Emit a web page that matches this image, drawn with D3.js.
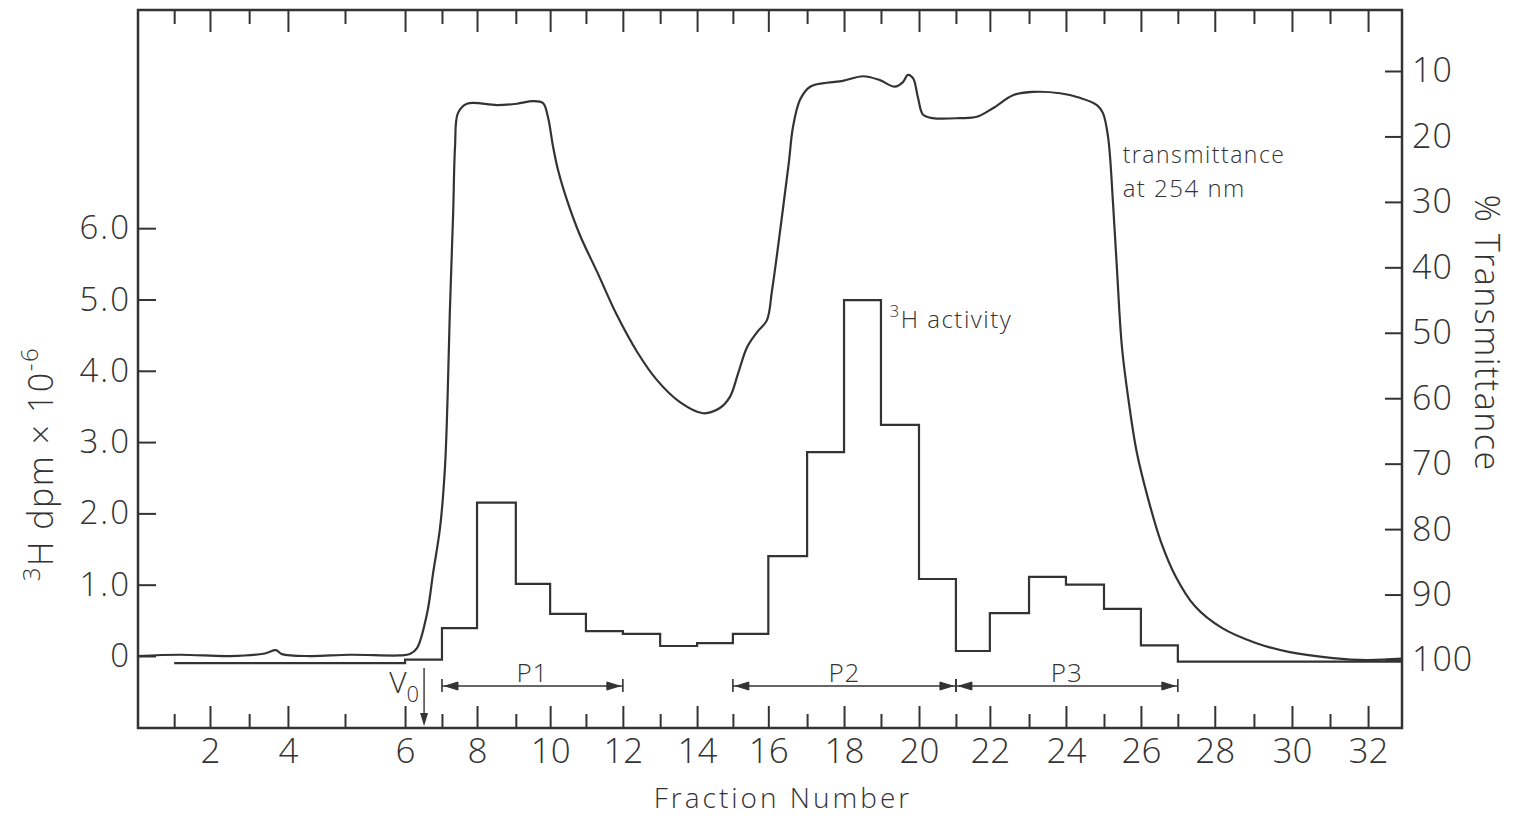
<!DOCTYPE html>
<html>
<head>
<meta charset="utf-8">
<script src="https://cdn.jsdelivr.net/npm/d3@7"></script>
<style>
    body { margin: 0; background: #fff; }
    text { font-family: "Open Sans", sans-serif; font-weight: 300; fill: #333; }
</style>
</head>
<body>
<div id="chart"></div>
<script>
const width = 1523;
const height = 824;
const margin = {'top': 10, 'bottom': 96, 'left': 138, 'right': 121};

// fraction numbers and where each fraction starts on the elution axis (ml)
const fractionNumber = [1, 2, 3, 4, 5, 6, 7, 8, 9, 10, 11, 12, 13, 14, 15, 16,
    17, 18, 19, 20, 21, 22, 23, 24, 25, 26, 27, 28, 29, 30, 31, 32];
const fractionVolume = [0.97, 1.93, 2.98, 4.02, 5.55, 7.16, 8.15, 9.09, 10.13, 11.05, 12.01, 13.0,
    14.0, 14.99, 15.95, 16.9, 17.94, 18.93, 19.92, 20.94, 21.93, 22.84, 23.89, 24.88,
    25.9, 26.89, 27.88, 28.87, 29.92, 30.94, 31.96, 32.98];
const volumeMax = 33.89;

// 3H activity per fraction (dpm x 10^-6)
const activity = [-0.10, -0.10, -0.10, -0.10, -0.10, -0.05, 0.39, 2.15, 1.01, 0.59, 0.35, 0.31,
    0.14, 0.18, 0.31, 1.40, 2.86, 4.99, 3.24, 1.08, 0.07, 0.60, 1.11, 1.00,
    0.66, 0.15, -0.08, -0.08, -0.08, -0.08, -0.08, -0.08];

// transmittance trace at 254 nm
const transVolume = [0.00, 1.13, 2.47, 3.40, 3.70, 3.86, 4.61, 5.68, 7.02, 7.29, 7.48, 7.75,
    7.91, 8.10, 8.23, 8.30, 8.36, 8.45, 8.50, 8.58, 8.82, 9.62, 10.16, 10.59,
    10.86, 10.99, 11.13, 11.26, 11.50, 11.85, 12.31, 12.84, 13.38, 13.91, 14.53, 15.15,
    15.60, 15.87, 16.09, 16.33, 16.60, 16.86, 17.00, 17.26, 17.45, 17.56, 17.75, 18.02,
    18.47, 18.90, 19.44, 19.89, 20.29, 20.51, 20.64, 20.78, 20.91, 21.05, 21.31, 22.04,
    22.49, 22.92, 23.46, 23.99, 24.72, 25.25, 25.71, 25.87, 26.01, 26.14, 26.25, 26.38,
    26.57, 26.78, 27.08, 27.43, 27.80, 28.34, 29.06, 29.97, 30.88, 32.04, 32.95, 33.89];
const transPercent = [99.4, 99.2, 99.4, 99.0, 98.5, 99.1, 99.4, 99.2, 99.3, 99.1, 98.2, 92.9,
    86.8, 79.7, 70.6, 60.0, 47.0, 31.7, 21.6, 16.4, 15.0, 15.2, 15.0, 14.6,
    14.9, 17.0, 21.6, 25.1, 29.7, 35.1, 40.7, 47.3, 52.9, 57.2, 60.6, 62.3,
    61.5, 59.8, 56.2, 52.2, 49.9, 48.1, 43.5, 32.5, 24.0, 18.6, 14.4, 12.4,
    11.8, 11.5, 10.8, 11.4, 12.4, 11.7, 10.6, 11.1, 14.0, 16.7, 17.2, 17.2,
    17.0, 15.7, 13.7, 13.2, 13.4, 14.1, 15.2, 16.4, 20.1, 30.0, 40.5, 52.1,
    60.8, 68.3, 75.3, 82.0, 87.0, 91.8, 95.1, 97.4, 98.8, 99.7, 100.0, 99.8];

// tick labels
const activityTicks = [0, 1, 2, 3, 4, 5, 6];
const percentTicks = [10, 20, 30, 40, 50, 60, 70, 80, 90, 100];

// pooled peaks (first and last fraction boundary) and void volume
const peakLabels = ['P1', 'P2', 'P3'];
const peakFrom = [7, 15, 21];
const peakTo = [12, 21, 27];
const voidVolume = 7.67;

let svg;

window.addEventListener('load', () => {
    drawChart();
});

const drawChart = () => {
    const plotBottom = height - margin.bottom;
    const plotRight = width - margin.right;

    svg = d3.select('#chart')
        .append('svg')
        .attr('width', width)
        .attr('height', height);

    const x = d3.scaleLinear()
        .domain([0, volumeMax])
        .range([margin.left, plotRight]);

    const yLeft = d3.scaleLinear()
        .domain([-1.01, 9.06])
        .range([plotBottom, margin.top]);

    const yRight = d3.scaleLinear()
        .domain([110.39, 0.68])
        .range([plotBottom, margin.top]);

    const ink = '#333';

    // bottom axis, ticks pointing inward
    const bottom = svg.append('g')
        .attr('class', 'x-axis')
        .attr('transform', 'translate(0,' + plotBottom + ')')
        .call(d3.axisBottom(x)
            .tickValues(fractionVolume)
            .tickSizeInner(-22).tickSizeOuter(0).tickPadding(10)
            .tickFormat((d, i) => fractionNumber[i] % 2 === 0 ? fractionNumber[i] : ''));
    bottom.selectAll('.tick line')
        .attr('y2', (d, i) => fractionNumber[i] % 2 === 0 ? -22 : -14);
    bottom.selectAll('text').style('font-size', '35px').attr('dy', '0.72em');

    // top axis
    const top = svg.append('g')
        .attr('transform', 'translate(0,' + margin.top + ')')
        .call(d3.axisTop(x)
            .tickValues(fractionVolume)
            .tickSizeInner(-22).tickSizeOuter(0)
            .tickFormat(''));
    top.selectAll('.tick line')
        .attr('y2', (d, i) => fractionNumber[i] % 2 === 0 ? 22 : 14);

    // left axis
    const left = svg.append('g')
        .attr('class', 'y-axis')
        .attr('transform', 'translate(' + margin.left + ',0)')
        .call(d3.axisLeft(yLeft)
            .tickValues(activityTicks)
            .tickSizeInner(-18).tickSizeOuter(0).tickPadding(7)
            .tickFormat(d => d === 0 ? '0' : d.toFixed(1)));
    left.selectAll('text').style('font-size', '33px').style('letter-spacing', '2px');

    // right axis
    const right = svg.append('g')
        .attr('transform', 'translate(' + plotRight + ',0)')
        .call(d3.axisRight(yRight)
            .tickValues(percentTicks)
            .tickSizeInner(-17).tickSizeOuter(0).tickPadding(10));
    right.selectAll('text').style('font-size', '34px').style('letter-spacing', '1px');

    svg.selectAll('.domain').remove();
    svg.selectAll('.tick line').attr('stroke', ink).attr('stroke-width', 2);
    svg.selectAll('.tick text').attr('fill', ink).style('font-family', '"Open Sans", sans-serif');

    // frame
    svg.append('rect')
        .attr('x', margin.left)
        .attr('y', margin.top)
        .attr('width', plotRight - margin.left)
        .attr('height', plotBottom - margin.top)
        .attr('fill', 'none')
        .attr('stroke', ink)
        .attr('stroke-width', 2.5);

    // 3H activity histogram
    const steps = activity.map((v, i) => ({vol: fractionVolume[i], val: v}));
    steps.push({vol: volumeMax, val: activity[activity.length - 1]});
    svg.append('path')
        .datum(steps)
        .attr('fill', 'none')
        .attr('stroke', ink)
        .attr('stroke-width', 2.2)
        .attr('d', d3.line()
            .curve(d3.curveStepAfter)
            .x(d => x(d.vol))
            .y(d => yLeft(d.val)));

    // transmittance trace
    const trace = transVolume.map((v, i) => ({vol: v, pct: transPercent[i]}));
    svg.append('path')
        .datum(trace)
        .attr('fill', 'none')
        .attr('stroke', ink)
        .attr('stroke-width', 2.2)
        .attr('d', d3.line()
            .curve(d3.curveCatmullRom.alpha(0.5))
            .x(d => x(d.vol))
            .y(d => yRight(d.pct)));

    // peak pool arrows
    const arrowY = plotBottom - 42;
    peakLabels.forEach((label, i) => {
        const x1 = x(fractionVolume[peakFrom[i] - 1]);
        const x2 = x(fractionVolume[peakTo[i] - 1]);
        const g = svg.append('g').attr('stroke', ink).attr('fill', ink);
        g.append('line')
            .attr('x1', x1).attr('x2', x2)
            .attr('y1', arrowY).attr('y2', arrowY)
            .attr('stroke-width', 1.6);
        [x1, x2].forEach(xe => {
            g.append('line')
                .attr('x1', xe).attr('x2', xe)
                .attr('y1', arrowY - 7).attr('y2', arrowY + 6)
                .attr('stroke-width', 1.6);
        });
        g.append('path')
            .attr('stroke-width', 1)
            .attr('d', 'M' + (x1 + 3) + ',' + arrowY + 'L' + (x1 + 16) + ',' + (arrowY - 4) +
                'L' + (x1 + 16) + ',' + (arrowY + 4) + 'Z');
        g.append('path')
            .attr('stroke-width', 1)
            .attr('d', 'M' + (x2 - 3) + ',' + arrowY + 'L' + (x2 - 16) + ',' + (arrowY - 4) +
                'L' + (x2 - 16) + ',' + (arrowY + 4) + 'Z');
        svg.append('text')
            .attr('x', (x1 + x2) / 2)
            .attr('y', arrowY - 4)
            .attr('text-anchor', 'middle')
            .style('font-size', '26px')
            .style('letter-spacing', '1px')
            .text(label);
    });

    // void volume marker
    const xv = x(voidVolume);
    svg.append('line')
        .attr('x1', xv).attr('x2', xv)
        .attr('y1', plotBottom - 60).attr('y2', plotBottom - 12)
        .attr('stroke', ink).attr('stroke-width', 1.4);
    svg.append('path')
        .attr('fill', ink)
        .attr('d', 'M' + xv + ',' + (plotBottom - 2) + 'L' + (xv - 4) + ',' + (plotBottom - 15) +
            'L' + (xv + 4) + ',' + (plotBottom - 15) + 'Z');
    const v0 = svg.append('text')
        .attr('x', xv - 5)
        .attr('y', plotBottom - 35)
        .attr('text-anchor', 'end')
        .style('font-size', '30px');
    v0.append('tspan').text('V');
    v0.append('tspan').attr('dy', 9).style('font-size', '22px').text('0');

    // curve labels
    svg.append('text')
        .attr('x', x(26.4))
        .attr('y', 163)
        .style('font-size', '23px')
        .style('letter-spacing', '1.5px')
        .text('transmittance');
    svg.append('text')
        .attr('x', x(26.4))
        .attr('y', 197)
        .style('font-size', '24px')
        .style('letter-spacing', '1.5px')
        .text('at 254 nm');
    const act = svg.append('text')
        .attr('x', x(20.15))
        .attr('y', 328)
        .style('font-size', '24px')
        .style('letter-spacing', '1.5px');
    act.append('tspan').attr('dy', -11).style('font-size', '17px').text('3');
    act.append('tspan').attr('dy', 11).text('H activity');

    // axis titles
    svg.append('text')
        .attr('x', (margin.left + plotRight) / 2 + 13)
        .attr('y', 808)
        .attr('text-anchor', 'middle')
        .style('font-size', '28px')
        .style('letter-spacing', '3px')
        .text('Fraction Number');

    const yTitle = svg.append('text')
        .attr('transform', 'translate(53,464) rotate(-90)')
        .attr('text-anchor', 'middle')
        .style('font-size', '34px')
        .style('letter-spacing', '1.5px');
    yTitle.append('tspan').attr('dy', -13).style('font-size', '24px').text('3');
    yTitle.append('tspan').attr('dy', 13).text('H dpm \u00d7 10');
    yTitle.append('tspan').attr('dy', -15).style('font-size', '24px').text('-6');

    svg.append('text')
        .attr('transform', 'translate(1475,333) rotate(90)')
        .attr('text-anchor', 'middle')
        .style('font-size', '34px')
        .style('letter-spacing', '1.5px')
        .text('% Transmittance');
}
</script>
</body>
</html>
